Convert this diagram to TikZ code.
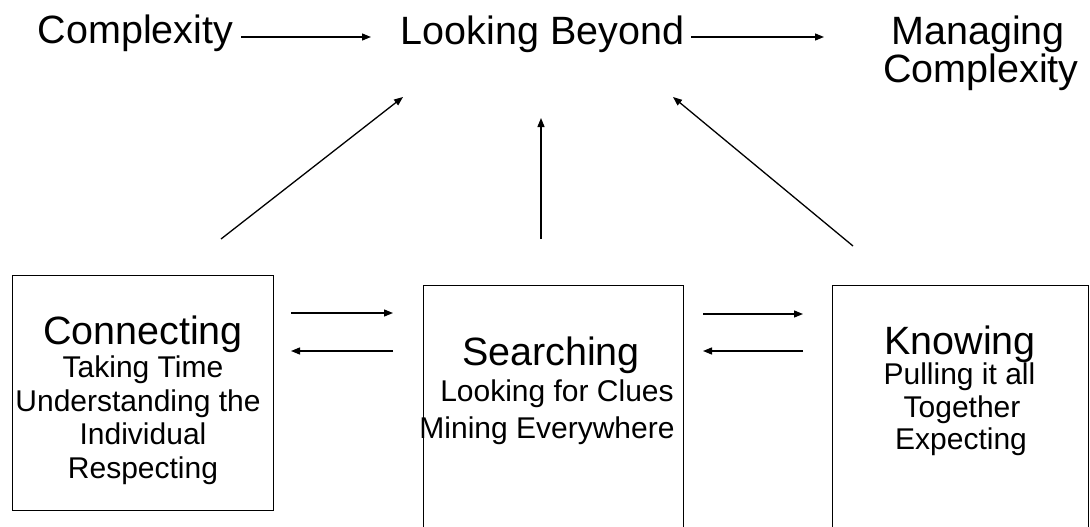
\documentclass[tikz,border=0pt]{standalone}
\usepackage{fontspec}
\setmainfont{Liberation Sans}
\usetikzlibrary{arrows.meta}
\begin{document}
\begin{tikzpicture}[x=1pt,y=-1pt,
  big/.style={font=\fontsize{39.5}{36}\selectfont, inner sep=0pt, anchor=base},
  small/.style={font=\fontsize{30}{33}\selectfont, inner sep=0pt, anchor=base},
  boxshape/.style={draw=black, line width=1pt, inner sep=0pt},
  arr/.style={line width=1.3pt, -{Triangle[length=9pt,width=7pt]}}]
\fill[white] (0,0) rectangle (1090,527);
\useasboundingbox (0,0) rectangle (1090,527);
\clip (0,0) rectangle (1090,527);
% top row
\node[big] (cx) at (135.5,44) {Complexity};
\node[big] (lb) at (542.5,45) {Looking Beyond};
\node[big] (mg1) at (978,45) {Managing};
\node[big] (mg2) at (981,82) {Complexity};
% boxes
\node[boxshape, minimum width=261pt, minimum height=235pt] (b1) at (142.5,392.5) {};
\node[boxshape, minimum width=260pt, minimum height=280pt] (b2) at (553,425) {};
\node[boxshape, minimum width=256pt, minimum height=280pt] (b3) at (960,425) {};
% box texts
\node[big] (t1) at (143,344) {Connecting};
\node[small] (s11) at (143,377) {Taking Time};
\node[small] (s12) at (138,411) {Understanding the};
\node[small] (s13) at (143,444) {Individual};
\node[small] (s14) at (143,478) {Respecting};
\node[big] (t2) at (551,365) {Searching};
\node[small] (s21) at (557,401) {Looking for Clues};
\node[small] (s22) at (547,438) {Mining Everywhere};
\node[big] (t3) at (960,354) {Knowing};
\node[small] (s31) at (959.5,384) {Pulling it all};
\node[small] (s32) at (962,417) {Together};
\node[small] (s33) at (961,449) {Expecting};
% connector end points
\coordinate (a1s) at (241,37); \coordinate (a1e) at (371,37);
\coordinate (a2s) at (691,37); \coordinate (a2e) at (824,37);
\coordinate (d1s) at (221,239); \coordinate (d1e) at (403,97);
\coordinate (d2s) at (541,239); \coordinate (d2e) at (541,118);
\coordinate (d3s) at (853,246); \coordinate (d3e) at (673,97);
\coordinate (h1s) at (291,313); \coordinate (h1e) at (393,313);
\coordinate (h2s) at (393,351); \coordinate (h2e) at (291,351);
\coordinate (h3s) at (703,314); \coordinate (h3e) at (803,314);
\coordinate (h4s) at (803,351); \coordinate (h4e) at (703,351);
\draw[arr] (a1s) -- (a1e);
\draw[arr] (a2s) -- (a2e);
\draw[arr] (d1s) -- (d1e);
\draw[arr] (d2s) -- (d2e);
\draw[arr] (d3s) -- (d3e);
\draw[arr] (h1s) -- (h1e);
\draw[arr] (h2s) -- (h2e);
\draw[arr] (h3s) -- (h3e);
\draw[arr] (h4s) -- (h4e);
\end{tikzpicture}
\end{document}
